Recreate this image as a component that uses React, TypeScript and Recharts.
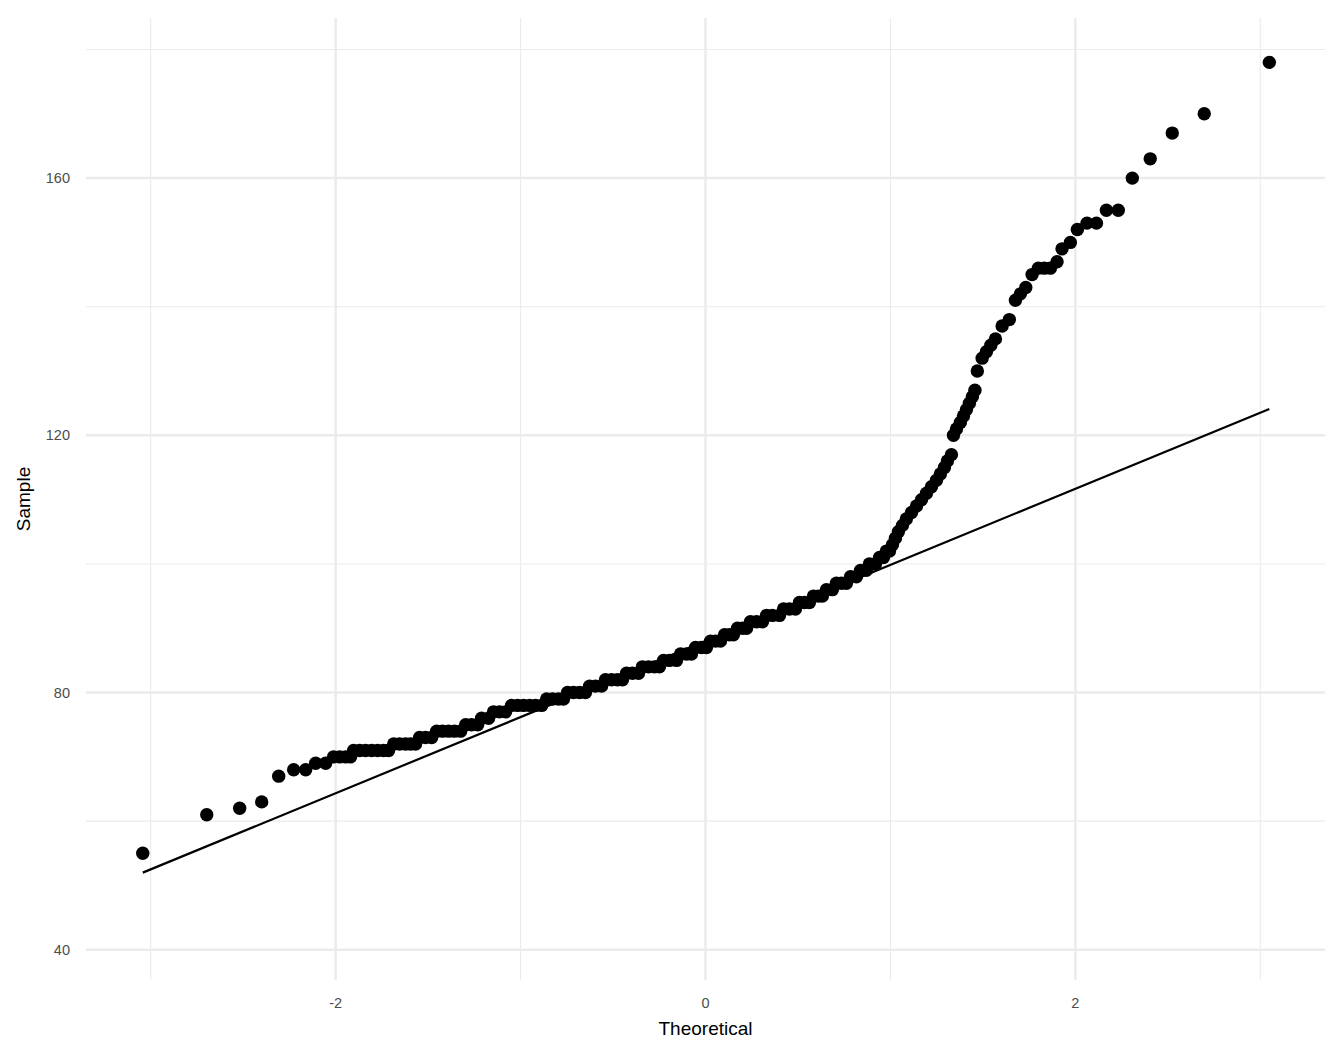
import {
  ComposedChart,
  Scatter,
  Line,
  XAxis,
  YAxis,
  CartesianGrid,
} from 'recharts';

// points, [theoretical, sample]
const lowerTail: [number, number][] = [
  [-3.043, 55], [-2.697, 61], [-2.519, 62], [-2.4, 63], [-2.308, 67],
  [-2.227, 68], [-2.162, 68], [-2.108, 69], [-2.054, 69],
];

const body: [number, number][] = [
  [-2.011, 70], [-1.978, 70], [-1.946, 70], [-1.919, 70],
  [-1.903, 71], [-1.87, 71], [-1.838, 71], [-1.805, 71], [-1.773, 71], [-1.741, 71], [-1.714, 71],
  [-1.686, 72], [-1.654, 72], [-1.622, 72], [-1.595, 72], [-1.568, 72],
  [-1.546, 73], [-1.514, 73], [-1.481, 73],
  [-1.454, 74], [-1.422, 74], [-1.389, 74], [-1.357, 74], [-1.324, 74],
  [-1.297, 75], [-1.265, 75], [-1.232, 75],
  [-1.211, 76], [-1.173, 76],
  [-1.146, 77], [-1.114, 77], [-1.081, 77],
  [-1.049, 78], [-1.016, 78], [-0.984, 78], [-0.951, 78], [-0.919, 78], [-0.886, 78],
  [-0.859, 79], [-0.827, 79], [-0.795, 79], [-0.768, 79],
  [-0.746, 80], [-0.714, 80], [-0.681, 80], [-0.649, 80],
  [-0.627, 81], [-0.595, 81], [-0.562, 81],
  [-0.541, 82], [-0.508, 82], [-0.476, 82], [-0.449, 82],
  [-0.427, 83], [-0.395, 83], [-0.362, 83],
  [-0.341, 84], [-0.308, 84], [-0.276, 84], [-0.249, 84],
  [-0.227, 85], [-0.195, 85], [-0.157, 85],
  [-0.135, 86], [-0.103, 86], [-0.076, 86],
  [-0.054, 87], [-0.022, 87], [0.005, 87],
  [0.027, 88], [0.054, 88], [0.081, 88],
  [0.103, 89], [0.13, 89], [0.151, 89],
  [0.173, 90], [0.2, 90], [0.222, 90],
  [0.243, 91], [0.276, 91], [0.308, 91],
  [0.33, 92], [0.362, 92], [0.4, 92],
  [0.422, 93], [0.454, 93], [0.486, 93],
  [0.508, 94], [0.535, 94], [0.562, 94],
  [0.584, 95], [0.611, 95], [0.632, 95],
  [0.654, 96], [0.686, 96],
  [0.708, 97], [0.735, 97], [0.762, 97],
  [0.784, 98], [0.816, 98],
  [0.838, 99], [0.87, 99],
  [0.886, 100], [0.919, 100],
  [0.941, 101], [0.962, 101],
  [0.978, 102], [0.995, 102],
  [1.011, 103], [1.027, 104], [1.043, 105], [1.065, 106], [1.086, 107],
  [1.114, 108], [1.141, 109], [1.168, 110], [1.195, 111], [1.222, 112],
  [1.249, 113], [1.27, 114], [1.292, 115], [1.308, 116], [1.33, 117],
];

const upperTail: [number, number][] = [
  [1.341, 120], [1.357, 121], [1.378, 122], [1.395, 123], [1.411, 124],
  [1.427, 125], [1.443, 126], [1.457, 127], [1.47, 130], [1.496, 132],
  [1.519, 133], [1.543, 134], [1.568, 135], [1.604, 137], [1.643, 138],
  [1.676, 141], [1.703, 142], [1.732, 143], [1.766, 145], [1.8, 146],
  [1.832, 146], [1.865, 146], [1.901, 147], [1.928, 149], [1.973, 150],
  [2.011, 152], [2.063, 153], [2.114, 153], [2.168, 155], [2.232, 155],
  [2.308, 160], [2.405, 163], [2.524, 167], [2.697, 170], [3.049, 178],
];

// reference line ends
const lineX = [-3.043, 3.049];
const lineY = [52.0, 124.1];

const xMajor = [-2, 0, 2];
const xMinor = [-3, -1, 1, 3];
const yMajor = [40, 80, 120, 160];
const yMinor = [60, 100, 140, 180];

const FONT = '"Liberation Sans", Arial, sans-serif';

document.body.style.margin = '0';

const qqPoints = [...lowerTail, ...body, ...upperTail].map(([x, y]) => ({ x, y }));
const qqLine = lineX.map((x, i) => ({ x, y: lineY[i] }));

const Dot = (props: any) => <circle cx={props.cx} cy={props.cy} r={6.7} fill="#000" />;

const XTitle = (props: any) => {
  const vb = props.viewBox;
  return (
    <text
      x={vb.x + vb.width / 2}
      y={vb.y + 55}
      textAnchor="middle"
      fontSize={19}
      fontFamily={FONT}
      fill="#000"
    >
      Theoretical
    </text>
  );
};

const YTitle = (props: any) => {
  const vb = props.viewBox;
  const x = vb.x + 29.5;
  const y = vb.y + vb.height / 2;
  return (
    <text
      x={x}
      y={y}
      transform={`rotate(-90, ${x}, ${y})`}
      textAnchor="middle"
      fontSize={19}
      fontFamily={FONT}
      fill="#000"
    >
      Sample
    </text>
  );
};

export default function App() {
  const tickStyle = { fill: '#4d4d4d', fontSize: 14.5, fontFamily: FONT };
  return (
    <ComposedChart
      width={1344}
      height={1056}
      margin={{ top: 18, right: 19, bottom: 0, left: 0 }}
    >
      <CartesianGrid
        horizontalValues={yMinor}
        verticalValues={xMinor}
        stroke="#ebebeb"
        strokeWidth={1.1}
      />
      <CartesianGrid
        horizontalValues={yMajor}
        verticalValues={xMajor}
        stroke="#ebebeb"
        strokeWidth={2.5}
      />
      <XAxis
        type="number"
        dataKey="x"
        domain={[-3.35, 3.35]}
        ticks={xMajor}
        allowDataOverflow
        axisLine={false}
        tickLine={false}
        tickSize={0}
        tickMargin={18}
        height={76}
        tick={tickStyle}
        label={{ content: XTitle }}
      />
      <YAxis
        type="number"
        dataKey="y"
        domain={[35.3, 184.9]}
        ticks={yMajor}
        allowDataOverflow
        axisLine={false}
        tickLine={false}
        tickSize={0}
        tickMargin={16}
        width={86}
        tick={tickStyle}
        label={{ content: YTitle }}
      />
      <Scatter data={qqPoints} shape={Dot} fill="#000" isAnimationActive={false} />
      <Line
        data={qqLine}
        dataKey="y"
        type="linear"
        stroke="#000"
        strokeWidth={2.2}
        dot={false}
        activeDot={false}
        isAnimationActive={false}
      />
    </ComposedChart>
  );
}
